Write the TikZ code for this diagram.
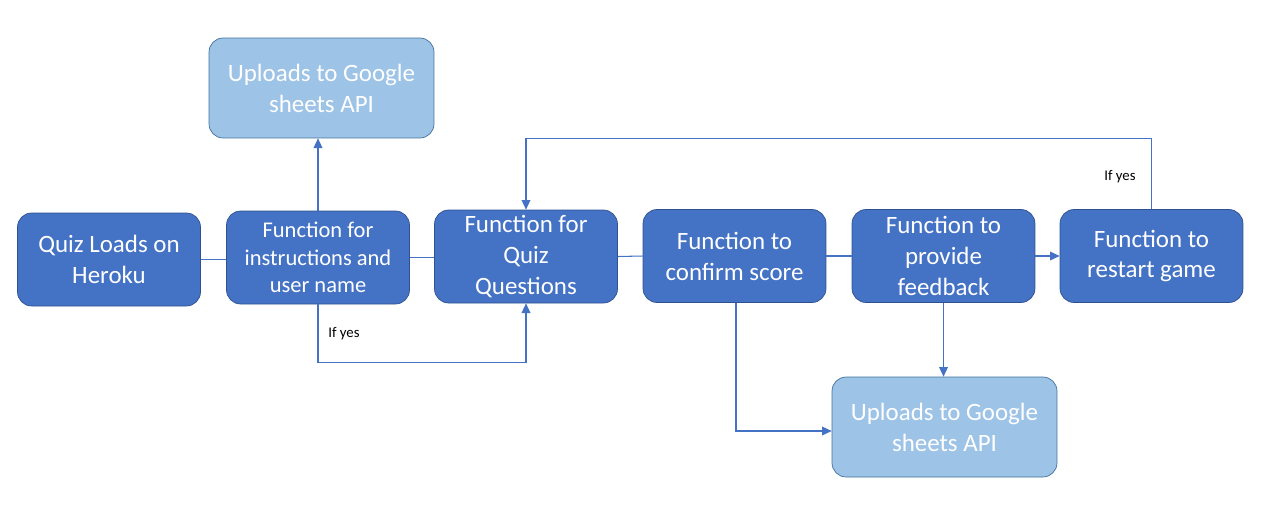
\documentclass[tikz,border=0pt]{standalone}
\usepackage{fontspec}
\setmainfont{Carlito}
\usetikzlibrary{arrows.meta}

\definecolor{boxblue}{HTML}{4472C4}
\definecolor{boxedge}{HTML}{2F528F}
\definecolor{sheetblue}{HTML}{9DC3E6}
\definecolor{sheetedge}{HTML}{41719C}

\begin{document}
\begin{tikzpicture}[x=0.02cm, y=-0.02cm,
    func/.style={draw=boxedge, fill=boxblue, text=white, rounded corners=8pt,
        minimum width=3.66cm, minimum height=1.86cm, inner sep=0pt, align=center,
        font=\fontsize{14.2}{17.6}\selectfont},
    sheet/.style={func, draw=sheetedge, fill=sheetblue,
        minimum width=4.5cm, minimum height=2cm},
    link/.style={draw=boxblue, line width=0.6pt},
    arr/.style={link, -{Triangle[length=5.5pt, width=5pt]}},
    note/.style={font=\fontsize{8.4}{10}\selectfont, anchor=west, inner sep=0pt}]

    % Rahmen wie im Bild
    \useasboundingbox (0,0) rectangle (1264,508);

    % Hauptkette
    \node[func] (load) at (109,259.5) {Quiz Loads on\\Heroku};
    \node[func, font=\fontsize{12.8}{15.6}\selectfont] (instr) at (318,257.5)
        {Function for\\instructions and\\user name};
    \node[func] (quiz) at (526,256.5) {Function for\\Quiz\\Questions};
    \node[func] (score) at (734.5,256) {Function to\\confirm score};
    \node[func] (feed) at (943.5,256) {Function to\\provide\\feedback};
    \node[func] (restart) at (1151.5,256) {\raisebox{-1.5pt}{Function to}\\\raisebox{-1.5pt}{restart game}};

    % Google Sheets
    \node[sheet] (upTop) at (321.5,88) {Uploads to Google\\sheets API};
    \node[sheet] (upBot) at (944.5,427) {Uploads to Google\\sheets API};

    % Verbindungen
    \coordinate (scoreTurn) at (736,431);
    \draw[link] (load.east) -- (load.east -| instr.west);
    \draw[link] (instr.east) -- (instr.east -| quiz.west);
    \draw[link] (quiz.east) -- (score.west);
    \draw[link] (score.east) -- (feed.west);
    \draw[arr] (feed.east) -- (restart.west);

    \draw[arr] (instr.north) -- (instr.north |- upTop.south);
    \draw[arr] (feed.south) -- (feed.south |- upBot.north);
    \draw[arr] (scoreTurn |- score.south) -- (scoreTurn) -- (scoreTurn -| upBot.west);

    % Schleifen "If yes"
    \draw[arr] (instr.south) -- ++(0,58) -| (quiz.south);
    \draw[arr] (restart.north) -- ++(0,-71) -| (quiz.north);
    \node[note] (yesA) at (328,334) {If yes};
    \node[note] (yesB) at (1104,177) {If yes};
\end{tikzpicture}
\end{document}
